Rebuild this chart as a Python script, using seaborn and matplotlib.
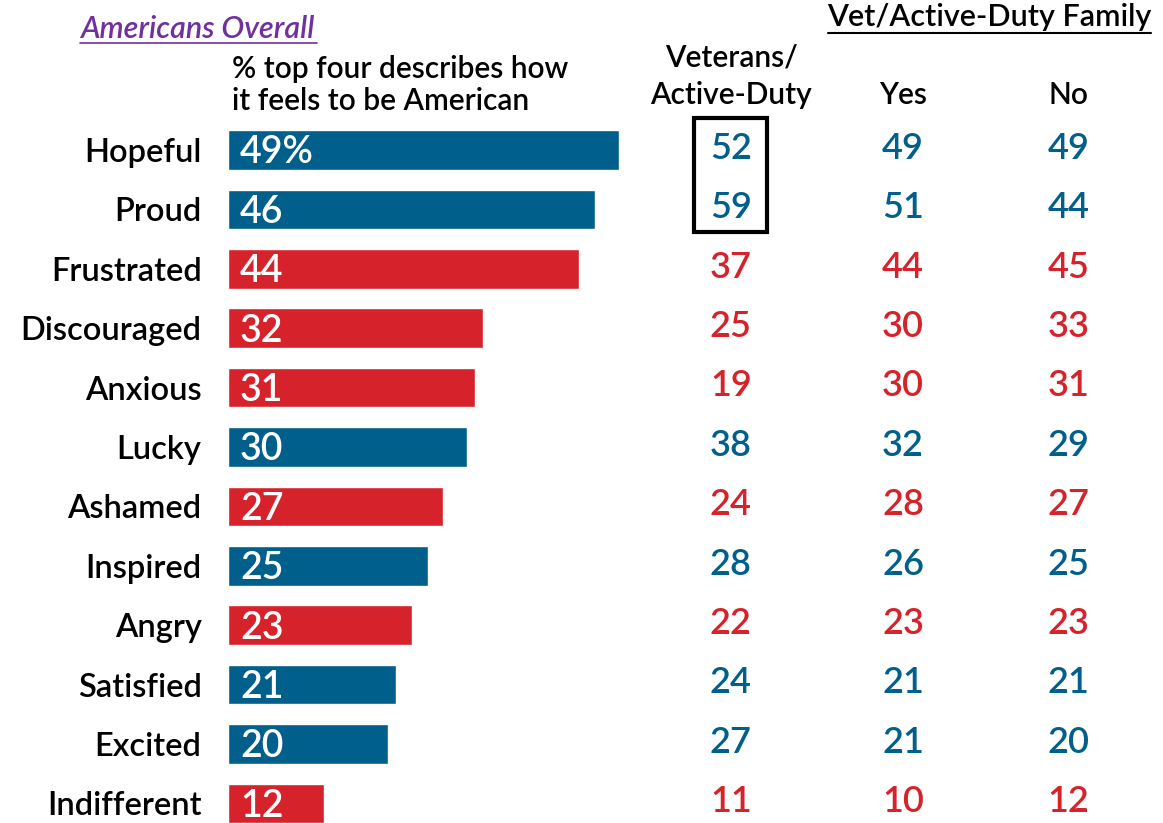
import matplotlib
matplotlib.use('Agg')

import pandas as pd
import seaborn as sns
import matplotlib.pyplot as plt
from matplotlib.patches import Rectangle
from matplotlib.lines import Line2D

feelings = ['Hopeful', 'Proud', 'Frustrated', 'Discouraged', 'Anxious', 'Lucky',
            'Ashamed', 'Inspired', 'Angry', 'Satisfied', 'Excited', 'Indifferent']
tone = ['pos', 'pos', 'neg', 'neg', 'neg', 'pos', 'neg', 'pos', 'neg', 'pos', 'pos', 'neg']
overall = [49, 46, 44, 32, 31, 30, 27, 25, 23, 21, 20, 12]
veterans = [52, 59, 37, 25, 19, 38, 24, 28, 22, 24, 27, 11]
family_yes = [49, 51, 44, 30, 30, 32, 28, 26, 23, 21, 21, 10]
family_no = [49, 44, 45, 33, 31, 29, 27, 25, 23, 21, 20, 12]

BLUE = '#005F8B'
RED = '#D6232B'
PURPLE = '#7030A0'
colors = {'pos': BLUE, 'neg': RED}

df = pd.DataFrame({'feeling': feelings, 'tone': tone, 'overall': overall})

sns.set_style('white')
plt.rcParams['font.family'] = ['Lato', 'DejaVu Sans']
plt.rcParams['text.color'] = 'black'
plt.rcParams['ytick.color'] = 'black'
WT = 'semibold'

W, H = 1163, 823
fig = plt.figure(figsize=(W / 100, H / 100), dpi=100)
# 1 unit = 7.98 px, bar origin at x=228px, rows start at 150px every 59.4px
ax = fig.add_axes([228 / W, 0, 1 - 228 / W, 1])
sns.barplot(data=df, x='overall', y='feeling', hue='tone', palette=colors,
            order=feelings, dodge=False, width=0.67, saturation=1, legend=False, ax=ax)
ax.set_xlim(0, (W - 228) / 7.98)
ax.set_ylim((H - 150) / 59.4, -150 / 59.4)
sns.despine(ax=ax, left=True, bottom=True)
ax.set_xticks([])
ax.set_xlabel('')
ax.set_ylabel('')
ax.tick_params(axis='y', length=0, pad=19, labelcolor='black')
for t in ax.get_yticklabels():
    t.set_fontsize(23.5)
    t.set_fontweight(WT)

for i, v in enumerate(overall):
    lab = f'{v}%' if i == 0 else str(v)
    ax.text(1.5, i + 0.05, lab, color='white', fontsize=27, fontweight=WT,
            ha='left', va='center')

cols = [(63.0, veterans), (84.6, family_yes), (105.3, family_no)]
for xc, vals in cols:
    for i, v in enumerate(vals):
        c = colors[tone[i]]
        ax.text(xc, i - 0.03, str(v), color=c, fontsize=26, fontweight=WT,
                ha='center', va='center')

ax.add_patch(Rectangle((58.4, -0.54), 9.1, 1.92, fill=False, edgecolor='black',
                       linewidth=3, clip_on=False))

# headers
fig.text(80 / W, 1 - 29 / H, 'Americans Overall', color=PURPLE, fontsize=22,
         style='italic', fontweight=WT, ha='left', va='center')
fig.add_artist(Line2D([80 / W, 317 / W], [1 - 43 / H, 1 - 43 / H], color=PURPLE, lw=1.2))
fig.text(232 / W, 1 - 85 / H, '% top four describes how\nit feels to be American',
         fontsize=21.5, fontweight=WT, ha='left', va='center', linespacing=1.2)
fig.text(989 / W, 1 - 17 / H, 'Vet/Active-Duty Family', fontsize=22,
         fontweight=WT, ha='center', va='center')
fig.add_artist(Line2D([828 / W, 1151 / W], [1 - 33 / H, 1 - 33 / H], color='black', lw=1.5))
fig.text(731 / W, 1 - 76 / H, 'Veterans/\nActive-Duty', fontsize=21.5, fontweight=WT,
         ha='center', va='center', linespacing=1.4)
fig.text(903 / W, 1 - 95 / H, 'Yes', fontsize=21.5, fontweight=WT, ha='center', va='center')
fig.text(1068 / W, 1 - 95 / H, 'No', fontsize=21.5, fontweight=WT, ha='center', va='center')

plt.savefig('out.png', dpi=100)
plt.close()
